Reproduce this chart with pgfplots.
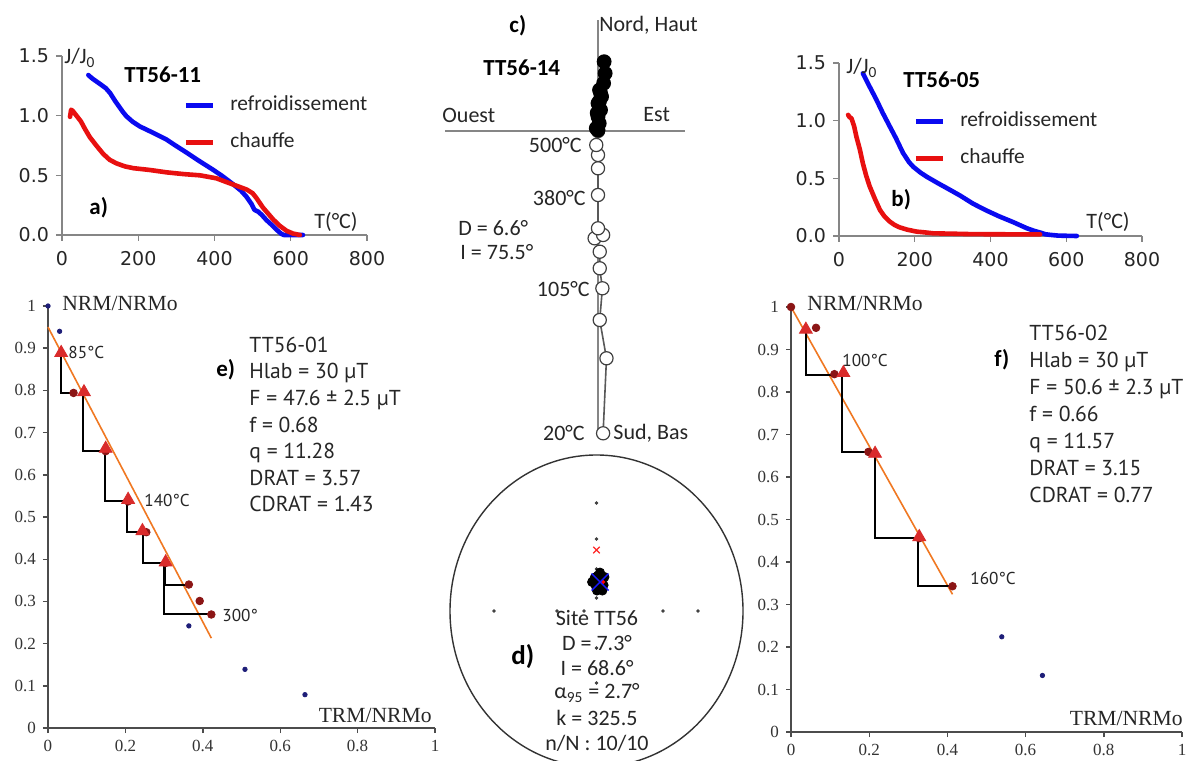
\documentclass[border=0pt]{standalone}
\usepackage{fontspec}
\setmainfont{Carlito}
\newfontfamily\dejavu{DejaVu Sans}
\newfontfamily\tnr{Liberation Serif}
\newfontfamily\myr{PT Sans}
\usepackage{pgfplots}
\pgfplotsset{compat=1.18}
\definecolor{cblue}{HTML}{0A0AF0}
\definecolor{cred}{HTML}{E81010}
\definecolor{axgray}{HTML}{868686}
\definecolor{dred}{HTML}{8B1515}
\definecolor{tri}{HTML}{D92B2B}
\definecolor{navy}{HTML}{1E1E78}
\definecolor{orng}{HTML}{F07822}
\newcommand{\fa}{\fontsize{11}{13}\selectfont}
\newcommand{\fbold}{\bfseries\fontsize{11.5}{13}\selectfont}
\newcommand{\fm}{\myr\fontsize{10.8}{13}\selectfont}
\pgfplotsset{
 thermo/.style={scale only axis, anchor=south west, enlargelimits=false,
   axis x line*=bottom, axis y line*=left,
   axis line style={axgray, line width=0.7pt}, tick style={axgray, line width=0.7pt},
   tick align=outside, major tick length=3pt,
   xmin=0,xmax=800,ymin=0,ymax=1.5,
   xtick={0,200,400,600,800}, xticklabels={0,200,400,600,800},
   ytick={0,0.5,1,1.5}, yticklabels={0.0,0.5,1.0,1.5},
   ticklabel style={font=\dejavu\fontsize{9.5}{11}\selectfont, text=black!85},
   xticklabel style={yshift=-1.5pt},
   clip=false,
   every axis plot/.append style={line join=round, line cap=round},
   legend cell align=left,
   legend image code/.code={\draw[##1, line width=2.5pt, line cap=butt] (0pt,0pt) -- (13.5pt,0pt);},
   legend style={draw=none, fill=none, inner sep=0pt, row sep=9.5pt,
     font=\fontsize{10.7}{12}\selectfont,
     nodes={inner sep=0pt, text height=7pt, text depth=2pt, text=black!85},
     /tikz/every odd column/.append style={column sep=7.5pt}},
 },
 arai/.style={scale only axis, anchor=south west, enlargelimits=false,
   axis x line*=bottom, axis y line*=left,
   axis line style={black!70, line width=0.7pt}, tick style={black!70, line width=0.7pt},
   tick align=outside, major tick length=2.5pt,
   xmin=0,xmax=1,ymin=0,ymax=1,
   xtick={0,0.2,0.4,0.6,0.8,1}, xticklabels={0,0.2,0.4,0.6,0.8,1},
   ytick={0,0.1,0.2,0.3,0.4,0.5,0.6,0.7,0.8,0.9,1},
   yticklabels={0,0.1,0.2,0.3,0.4,0.5,0.6,0.7,0.8,0.9,1},
   ticklabel style={font=\tnr\fontsize{8.5}{10}\selectfont, text=black!80},
   clip=false,
 },
 steps/.style={black, line width=1pt, line join=miter},
 fitl/.style={orng, line width=0.8pt},
 trim/.style={only marks, mark=triangle*, mark size=3.7pt, mark options={fill=tri, draw=tri}},
 circm/.style={only marks, mark=*, mark size=1.9pt, mark options={fill=dred, draw=dred}},
 bdot/.style={only marks, mark=*, mark size=1.1pt, mark options={fill=navy, draw=navy}},
}
\begin{document}
\begin{tikzpicture}
\useasboundingbox (0,0) rectangle (593pt,380pt);
\fill[white] (0,0) rectangle (593pt,380pt);

% ---------------- panel a
\begin{axis}[thermo, at={(31pt,262.5pt)}, width=152.5pt, height=89.5pt,
  legend style={at={(axis cs:317,1.165)}, anchor=north west}]
\addplot[cblue, line width=2.3pt] coordinates {(69,1.34) (80,1.31) (100,1.265) (115,1.23) (126,1.19) (140,1.12) (150,1.075) (160,1.03) (169,0.995) (185,0.95) (204,0.91) (240,0.855) (274,0.80) (300,0.745) (327,0.69) (360,0.62) (397,0.545) (420,0.495) (449,0.425) (470,0.37) (484,0.32) (497,0.26) (505,0.21) (515,0.195) (525,0.165) (536,0.126) (550,0.085) (565,0.038) (575,0.01) (582,0.0) (632,0.0)};
\addlegendentry{refroidissement}
\addplot[cred, line width=2.3pt] coordinates {(21,0.99) (24,1.05) (28,1.04) (38,1.0) (50,0.95) (60,0.89) (73,0.82) (90,0.75) (108,0.68) (125,0.63) (143,0.60) (165,0.575) (187,0.56) (230,0.545) (274,0.525) (320,0.51) (362,0.50) (405,0.475) (430,0.445) (460,0.41) (485,0.38) (500,0.35) (510,0.31) (527,0.23) (554,0.13) (570,0.08) (589,0.035) (606,0.012) (624,0.0)};
\addlegendentry{chauffe}
\end{axis}

% ---------------- panel b
\begin{axis}[thermo, at={(419.5pt,262pt)}, width=151.5pt, height=86.5pt,
  legend style={at={(axis cs:195,1.075)}, anchor=north west}]
\addplot[cblue, line width=2.3pt] coordinates {(63,1.41) (80,1.30) (99,1.18) (115,1.07) (134,0.95) (150,0.85) (169,0.72) (185,0.64) (196,0.60) (215,0.55) (231,0.515) (260,0.46) (293,0.40) (320,0.35) (354,0.28) (390,0.22) (423,0.17) (460,0.12) (496,0.067) (515,0.045) (531,0.03) (545,0.015) (557,0.01) (580,0.003) (628,0.0)};
\addlegendentry{refroidissement}
\addplot[cred, line width=2.3pt] coordinates {(24,1.05) (28,1.03) (33,1.02) (40,0.95) (46,0.86) (55,0.75) (63,0.63) (72,0.52) (81,0.43) (95,0.32) (108,0.226) (120,0.17) (134,0.125) (147,0.095) (160,0.075) (180,0.055) (205,0.038) (230,0.03) (249,0.023) (300,0.02) (337,0.017) (400,0.015) (531,0.014)};
\addlegendentry{chauffe}
\end{axis}

% ---------------- panel c (Zijderveld)
\begin{axis}[scale only axis, anchor=south west, at={(222.5pt,163.5pt)}, width=117.5pt, height=206.5pt,
  enlargelimits=false, xmin=-150, xmax=85, ymin=-302, ymax=111,
  axis lines=middle, axis line style={-, axgray, line width=0.8pt}, ticks=none, clip=false]
\addplot[black!65, line width=0.8pt, mark=*, mark size=3.3pt, mark options={fill=white, draw=black!75, line width=0.6pt}]
 coordinates {(5,-302.3) (8.3,-227.3) (1.7,-189) (4.3,-157.3) (1.7,-137.3) (1.7,-120.7) (-3.3,-107.3) (5,-104) (0,-97.3) (0,-64) (0,-37.3) (0,-24) (-1.7,-14) (0,0)};
\addplot[black, line width=1pt, mark=*, mark size=3.2pt]
 coordinates {(0,1) (-1.7,2.7) (1.2,7.7) (0,14.3) (-0.8,18) (2.5,21) (0,27.7) (1.5,30) (3.5,34.3) (2.5,38) (1.5,41) (5.5,47.7) (7,57.7) (6,69.3)};
\end{axis}

% ---------------- panel d (stereonet)
\begin{axis}[scale only axis, anchor=south west, at={(225pt,-3.5pt)}, width=146.5pt, height=156pt,
  enlargelimits=false, xmin=-1, xmax=1, ymin=-1.065, ymax=1.065, hide axis, clip=false]
\draw[black!80, line width=0.7pt] (axis cs:0,0) ellipse [x radius=1, y radius=1.065];
\addplot[only marks, mark=*, mark size=0.65pt, black!75] coordinates {(-0.70,0) (-0.27,0) (-0.085,0) (0.454,0) (0.693,0) (0,0.737) (0,0.491) (0,0.287) (0,0.089) (0,-0.253) (0,-0.491)};
\addplot[only marks, mark=x, mark size=2.3pt, red!85, line width=0.6pt] coordinates {(0,0.416)};
\addplot[only marks, mark=*, mark size=2.3pt, black] coordinates {(-0.030,0.198) (0.024,0.262) (0.048,0.177) (0.003,0.140) (0.040,0.140) (-0.012,0.228) (0.01,0.242) (0.03,0.21) (0.054,0.232) (-0.005,0.171)};
\addplot[only marks, mark=*, mark size=0.9pt, red] coordinates {(0.044,0.198)};
\addplot[only marks, mark=x, mark size=6pt, blue!90, line width=0.7pt] coordinates {(0.024,0.198)};
\end{axis}

% ---------------- panel e (Arai)
\begin{axis}[arai, at={(24pt,16pt)}, width=193.5pt, height=211pt]
\addplot[fitl] coordinates {(0,0.950) (0.422,0.213)};
\addplot[steps] coordinates {(0.034,0.889) (0.034,0.794) (0.066,0.794)};
\addplot[steps] coordinates {(0.091,0.796) (0.091,0.656) (0.149,0.656)};
\addplot[steps] coordinates {(0.147,0.662) (0.147,0.537) (0.207,0.537)};
\addplot[steps] coordinates {(0.203,0.541) (0.203,0.464) (0.254,0.464)};
\addplot[steps] coordinates {(0.246,0.467) (0.246,0.391) (0.304,0.391)};
\addplot[steps] coordinates {(0.302,0.393) (0.302,0.340) (0.364,0.340)};
\addplot[steps] coordinates {(0.300,0.393) (0.300,0.269) (0.422,0.269)};
\addplot[bdot] coordinates {(0,1.0) (0.030,0.94) (0.364,0.242) (0.509,0.139) (0.664,0.079)};
\addplot[circm] coordinates {(0.066,0.794) (0.254,0.464) (0.364,0.340) (0.392,0.301) (0.422,0.269) (0.149,0.656) (0.207,0.537) (0.304,0.391)};
\addplot[trim] coordinates {(0.034,0.889) (0.093,0.796) (0.149,0.662) (0.207,0.541) (0.244,0.467) (0.304,0.393)};
\end{axis}

% ---------------- panel f (Arai)
\begin{axis}[arai, at={(395.5pt,14pt)}, width=195.5pt, height=212.5pt]
\addplot[fitl] coordinates {(0,1.0) (0.413,0.324)};
\addplot[steps] coordinates {(0.038,0.947) (0.038,0.840) (0.111,0.840)};
\addplot[steps] coordinates {(0.130,0.845) (0.130,0.659) (0.198,0.659)};
\addplot[steps] coordinates {(0.215,0.655) (0.215,0.456) (0.328,0.456)};
\addplot[steps] coordinates {(0.324,0.459) (0.324,0.343) (0.413,0.343)};
\addplot[bdot] coordinates {(0.539,0.224) (0.643,0.133)};
\addplot[circm] coordinates {(0,1.0) (0.064,0.951) (0.111,0.842) (0.198,0.659) (0.413,0.343) (0.328,0.456)};
\addplot[trim] coordinates {(0.038,0.947) (0.134,0.845) (0.215,0.655) (0.328,0.459)};
\end{axis}

% ---------------- free text, pixel coordinates
\begin{scope}[shift={(0pt,380pt)}, x=0.5pt, y=-0.5pt, every node/.style={inner sep=0pt, text=black!85}]
% a
\node[anchor=west, font=\fa] at (64,58) {J/J\textsubscript{0}};
\node[anchor=west, font=\fbold, text=black] at (124,75) {TT56-11};
\node[anchor=west, font=\fbold, text=black] at (89,208) {a)};
\node[anchor=west, font=\fa] at (314,222) {T(°C)};
% b
\node[anchor=west, font=\fa] at (846,68) {J/J\textsubscript{0}};
\node[anchor=west, font=\fbold, text=black] at (903,80) {TT56-05};
\node[anchor=west, font=\fbold, text=black] at (891,200) {b)};
\node[anchor=west, font=\fa] at (1086,222) {T(°C)};
% c
\node[anchor=west, font=\fbold, text=black] at (509,26) {c)};
\node[anchor=west, font=\fbold, text=black] at (483,68) {TT56-14};
\node[anchor=west, font=\fa] at (599,25) {Nord, Haut};
\node[anchor=west, font=\fa] at (442,115) {Ouest};
\node[anchor=west, font=\fa] at (643,115) {Est};
\node[anchor=east, font=\fa] at (582,145) {500°C};
\node[anchor=east, font=\fa] at (586,198) {380°C};
\node[anchor=west, font=\fa] at (458,228) {D = 6.6°};
\node[anchor=west, font=\fa] at (460,252) {I = 75.5°};
\node[anchor=east, font=\fa] at (590,289) {105°C};
\node[anchor=east, font=\fa] at (585,433) {20°C};
\node[anchor=west, font=\fa] at (613,433) {Sud, Bas};
% d
\node[font=\fa] at (597,618) {Site TT56};
\node[font=\fa] at (597,643) {D = 7.3°};
\node[font=\fa] at (597,668) {I = 68.6°};
\node[font=\fa] at (597,693) {α\textsubscript{95} = 2.7°};
\node[font=\fa] at (597,718) {k = 325.5};
\node[font=\fa] at (597,743) {n/N : 10/10};
\node[anchor=west, font=\bfseries\fontsize{13.5}{15}\selectfont, text=black] at (511,657) {d)};
% e
\node[anchor=west, font=\tnr\fontsize{10.8}{12}\selectfont] at (62,303) {NRM/NRMo};
\node[anchor=east, font=\tnr\fontsize{10.8}{12}\selectfont] at (432,715) {TRM/NRMo};
\node[anchor=base west, font=\fm] at (249,352.3) {TT56-01};
\node[anchor=base west, font=\fm] at (249,378.9) {Hlab = 30 µT};
\node[anchor=base west, font=\fm] at (249,405.5) {F = 47.6 ± 2.5 µT};
\node[anchor=base west, font=\fm] at (249,432.1) {f = 0.68};
\node[anchor=base west, font=\fm] at (249,458.7) {q = 11.28};
\node[anchor=base west, font=\fm] at (249,485.3) {DRAT = 3.57};
\node[anchor=base west, font=\fm] at (249,511.9) {CDRAT = 1.43};
\node[anchor=west, font=\fbold, text=black] at (216,370) {e)};
\node[anchor=west, font=\myr\fontsize{8.6}{10}\selectfont] at (68,352) {85°C};
\node[anchor=west, font=\myr\fontsize{8.6}{10}\selectfont] at (144,500) {140°C};
\node[anchor=west, font=\myr\fontsize{8.6}{10}\selectfont] at (222,615) {300°};
% f
\node[anchor=west, font=\tnr\fontsize{10.8}{12}\selectfont] at (807,303) {NRM/NRMo};
\node[anchor=east, font=\tnr\fontsize{10.8}{12}\selectfont] at (1183,718) {TRM/NRMo};
\node[anchor=base west, font=\fm] at (1029,340.7) {TT56-02};
\node[anchor=base west, font=\fm] at (1029,367.7) {Hlab = 30 µT};
\node[anchor=base west, font=\fm] at (1029,394.7) {F = 50.6 ± 2.3 µT};
\node[anchor=base west, font=\fm] at (1029,421.7) {f = 0.66};
\node[anchor=base west, font=\fm] at (1029,448.7) {q = 11.57};
\node[anchor=base west, font=\fm] at (1029,475.7) {DRAT = 3.15};
\node[anchor=base west, font=\fm] at (1029,502.7) {CDRAT = 0.77};
\node[anchor=west, font=\fbold, text=black] at (994,360) {f)};
\node[anchor=west, font=\myr\fontsize{8.6}{10}\selectfont] at (842,360) {100°C};
\node[anchor=west, font=\myr\fontsize{8.6}{10}\selectfont] at (970,578) {160°C};
\end{scope}
\end{tikzpicture}
\end{document}
